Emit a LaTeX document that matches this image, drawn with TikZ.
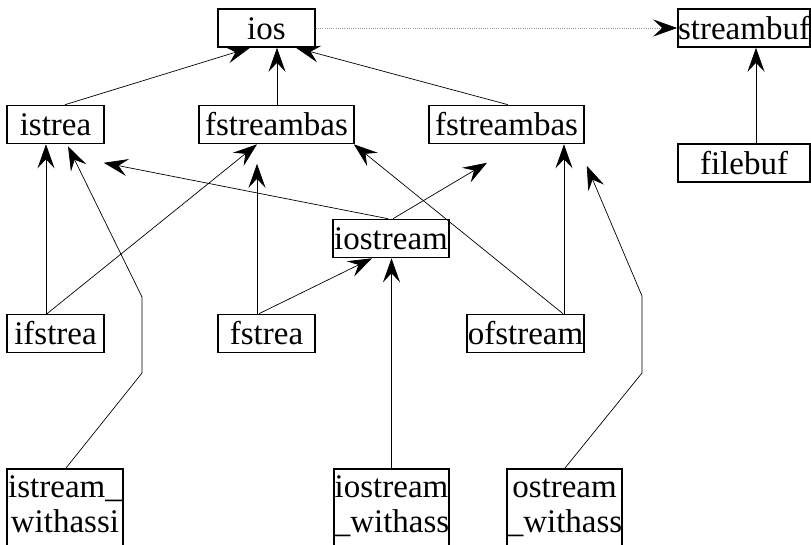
\documentclass[tikz,border=0pt]{standalone}
\usepackage{fontspec}
\setmainfont{Liberation Serif}
\usetikzlibrary{arrows.meta,calc}
\newcommand{\boxfont}{\fontsize{33}{35}\selectfont}
\tikzset{
  box/.style={draw, line width=1.6pt, inner xsep=0pt, inner ysep=0pt,
    minimum height=38pt, text height=22pt, text depth=0pt, font=\boxfont},
  tallbox/.style={draw, line width=1.6pt, inner xsep=0pt, inner ysep=7pt,
    text height=22pt, text depth=80pt, anchor=north, font=\boxfont},
  edge/.style={line width=0.7pt, -{Stealth[length=24pt,width=17pt,inset=9pt]}},
  dotedge/.style={line width=0.7pt, draw=black!40, dash pattern=on 1pt off 1.2pt,
    -{Stealth[length=24pt,width=17pt,inset=9pt,color=black]}}
}
\begin{document}
\begin{tikzpicture}[x=1pt,y=-1pt]
\path[use as bounding box] (0,0) rectangle (811,544);
\clip (0,0) rectangle (811,544);
% nodes
\node[box, minimum width=97pt]  (ios)       at (266.5,28)  {ios};
\node[box, minimum width=132pt] (streambuf) at (744,28)    {streambuf};
\node[box, minimum width=97pt]  (istrea)    at (55.5,124.5) {istrea};
\node[box, minimum width=155pt] (fsb1)      at (276.5,124.5) {fstreambas};
\node[box, minimum width=155pt] (fsb2)      at (506.5,124.5) {fstreambas};
\node[box, minimum width=132pt] (filebuf)   at (744,163)   {filebuf};
\node[box, minimum width=116pt] (iostream)  at (391,238.5) {iostream};
\node[box, minimum width=97pt]  (ifstrea)   at (55.5,333.5) {ifstrea};
\node[box, minimum width=97pt]  (fstrea)    at (266.5,333.5) {fstrea};
\node[box, minimum width=117pt] (ofstream)  at (525.5,333.5) {ofstream};
\node[tallbox, minimum width=116pt] (isw)  at (65,468)
  {\begin{tabular}[t]{@{}c@{}}istream\_\\withassi\end{tabular}};
\node[tallbox, minimum width=115pt] (iosw) at (391.5,468)
  {\begin{tabular}[t]{@{}c@{}}iostream\\\_withass\end{tabular}};
\node[tallbox, minimum width=115pt] (osw)  at (564.5,468)
  {\begin{tabular}[t]{@{}c@{}}ostream\\\_withass\end{tabular}};
% bend points
\coordinate (b1) at (142,373);
\coordinate (b2) at (142,297);
\coordinate (c1) at (642,373);
\coordinate (c2) at (642,296);
% edges
\draw[edge] ($(istrea.north)+(9.5,0)$) -- ($(ios.south)+(-16.5,0)$);
\draw[edge] ($(fsb1.north)+(0.5,0)$) -- ($(ios.south)+(10.5,0)$);
\draw[edge] ($(fsb2.north)+(1.5,0)$) -- ($(ios.south)+(29.5,0)$);
\draw[dotedge] (ios.east) -- (streambuf.west);
\draw[edge] ($(filebuf.north)+(12,0)$) -- ($(streambuf.south)+(12,0)$);
\draw[edge] ($(ifstrea.north)+(-9.5,0)$) -- ($(istrea.south)+(-9.5,0)$);
\draw[edge] ($(ifstrea.north)+(-8.5,0)$) -- ($(fsb1.south)+(-19.5,0)$);
\draw[edge] ($(isw.north)+(1,0)$) -- (b1) -- (b2) -- ($(istrea.south)+(12.5,2)$);
\draw[edge] ($(iostream.north)+(-3,0)$) -- ($(istrea.south east)+(-1,18.5)$);
\draw[edge] ($(iostream.north)+(2,0)$) -- ($(fsb2.south)+(-19.5,18.5)$);
\draw[edge] ($(fstrea.north)+(-9.5,0)$) -- ($(fsb1.south)+(-19.5,19.5)$);
\draw[edge] ($(fstrea.north)+(-7.5,0)$) -- ($(iostream.south)+(-19,0)$);
\draw[edge] ($(ofstream.north)+(37.5,0)$) -- ($(fsb1.south east)+(-1,0)$);
\draw[edge] ($(ofstream.north)+(38.5,0)$) -- ($(fsb2.south)+(57.5,0)$);
\draw[edge] (iosw.north) -- (iosw.north |- iostream.south);
\draw[edge] ($(osw.north)+(0.5,0)$) -- (c1) -- (c2) -- ($(fsb2.south east)+(2,21.5)$);
\end{tikzpicture}
\end{document}
